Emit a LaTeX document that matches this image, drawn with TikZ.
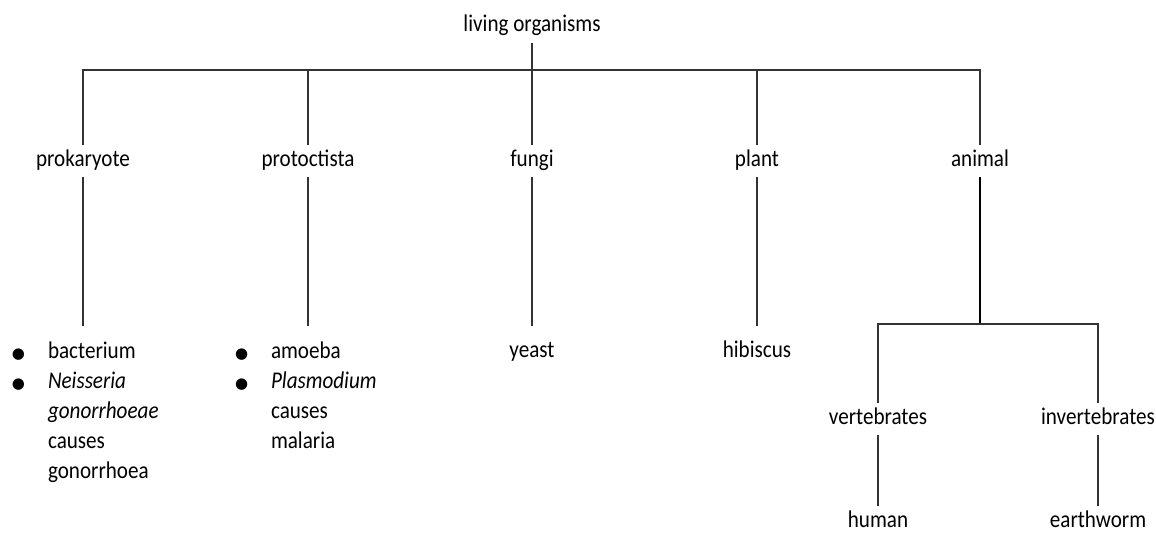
\documentclass[tikz,border=0pt]{standalone}
\usepackage{fontspec}
\setmainfont{Carlito}[FakeStretch=0.88]
\newfontfamily\symfont{DejaVu Sans}
\usepackage{tikz}
\usetikzlibrary{calc}
\newcommand{\blt}{\makebox[36pt][l]{\raisebox{0.5pt}{\symfont\fontsize{15}{15}\selectfont ●}}}
\newcommand{\ind}{\hspace*{36pt}}
\tikzset{
  lab/.style={inner sep=0pt, minimum height=32pt, text height=15pt, text depth=5pt},
  leaf/.style={lab, outer ysep=10pt},
  list/.style={inner sep=0pt, outer xsep=0pt, outer ysep=16pt, anchor=north west, align=left},
  link/.style={line width=1.1pt, draw=black!80},
  trunk/.style={link, line width=1.6pt, draw=black}
}

\begin{document}
\begin{tikzpicture}[x=1pt, y=-1pt, font=\fontsize{24}{30}\selectfont]
  \useasboundingbox (0,0) rectangle (1156,535);
  \node[lab] (root) at (532,27) {living organisms};
  \node[lab] (pk) at (83,161) {prokaryote};
  \node[lab] (pr) at (308,161) {protoctista};
  \node[lab] (fu) at (532,161) {fungi};
  \node[lab] (pl) at (757,161) {plant};
  \node[lab] (an) at (980,161) {animal};
  \node[list] (pkl) at (12,326) {\blt bacterium\\ \blt\textit{Neisseria}\\ \ind\textit{gonorrhoeae}\\ \ind causes\\ \ind gonorrhoea};
  \node[list] (prl) at (235,326) {\blt amoeba\\ \blt\textit{Plasmodium}\\ \ind causes\\ \ind malaria};
  \node[leaf] (ye) at (532,352) {yeast};
  \node[leaf] (hi) at (757,352) {hibiscus};
  \node[lab] (ve) at (878,419) {vertebrates};
  \node[lab] (iv) at (1098,419) {invertebrates};
  \node[lab] (hu) at (878,522) {human};
  \node[lab] (ea) at (1098,522) {earthworm};
  \coordinate (top) at (532,70);
  \coordinate (mid) at (980,324);
  % main branches
  \draw[link] (root) -- (fu);
  \draw[link] (pk.north) |- (top) -| (an.north);
  \foreach \c in {pr,pl}
    \draw[link] (\c.north) -- (\c.north |- top);
  \draw[link] (pk) -- (pk |- pkl.north);
  \draw[link] (pr) -- (pr |- prl.north);
  \draw[link] (fu) -- (ye);
  \draw[link] (pl) -- (hi);
  % animals
  \draw[trunk] (an) -- (mid);
  \draw[link] (ve) |- (mid) -| (iv);
  \draw[link] (ve) -- (hu);
  \draw[link] (iv) -- (ea);
\end{tikzpicture}
\end{document}
